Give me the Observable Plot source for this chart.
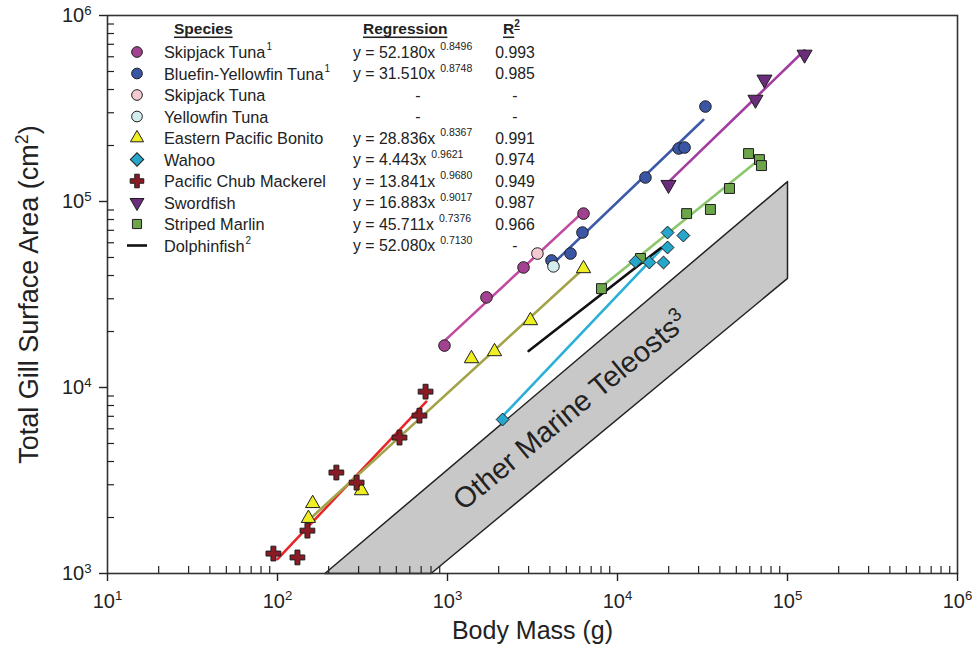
<!DOCTYPE html>
<html><head><meta charset="utf-8">
<script src="https://cdn.jsdelivr.net/npm/d3@7"></script>
<script src="https://cdn.jsdelivr.net/npm/@observablehq/plot@0.6"></script>
<style>
body{margin:0;background:#fff}
#wrap{position:relative;width:974px;height:653px}
#wrap svg.legend{position:absolute;left:0;top:0;pointer-events:none}
</style>
</head><body><div id="wrap"></div>
<script>
const FONT = "'Liberation Sans', Arial, Helvetica, sans-serif";

// ---- data: [body mass (g), total gill surface area (cm2)] ----
const skipjack1 = [[960,16800],[1695,30500],[2800,44200],[6310,86100]];
const bluefin1  = [[4090,48200],[5290,52500],[6220,68100],[14600,134600],[22900,192700],[24800,195000],[32900,324000]];
const skipjack  = [[3380,52500]];
const yellowfin = [[4200,44800]];
const bonito    = [[152,1980],[161,2380],[312,2790],[1383,14300],[1890,15600],[3075,22900],[6310,43600]];
const wahoo     = [[2110,6730],[12760,47500],[15400,47000],[18650,47000],[19700,56600],[19700,68100],[24400,65600]];
const mackerel  = [[94.6,1280],[131,1220],[150,1700],[222,3490],[292,3080],[522,5380],[684,7060],[743,9500]];
const swordfish = [[19950,123000],[64800,353000],[73200,453000],[126000,617000]];
const marlin    = [[8050,34000],[13650,49400],[25500,86100],[35200,90600],[45600,117500],[59000,181000],[68400,168000],[70300,156000]];

// regression line end points
const skipjack1Fit = [[960,17800],[6300,88200]];
const bluefin1Fit  = [[4000,44600],[32000,275000]];
const swordfishFit = [[20000,127500],[126000,650000]];
const marlinFit    = [[8000,34600],[70000,171400]];
const wahooFit     = [[2100,6980],[19000,58100]];
const bonitoFit    = [[150,1910],[6300,43500]];
const mackerelFit  = [[100,1195],[750,8400]];
const dolphinFit   = [[3000,15700],[18000,56300]];

// "Other Marine Teleosts" band outline
const teleostBand = [[190,1000],[100000,128000],[100000,38600],[800,1000],[190,1000]];
const teleostLabel = [{x:5300, y:7500, text:"Other Marine Teleosts^3"}];

// legend table
const legendSpecies = ["Skipjack Tuna^1","Bluefin-Yellowfin Tuna^1","Skipjack Tuna","Yellowfin Tuna","Eastern Pacific Bonito","Wahoo","Pacific Chub Mackerel","Swordfish","Striped Marlin","Dolphinfish^2"];
const legendCoef = ["52.180","31.510",null,null,"28.836","4.443","13.841","16.883","45.711","52.080"];
const legendExp  = ["0.8496","0.8748",null,null,"0.8367","0.9621","0.9680","0.9017","0.7376","0.7130"];
const legendR2   = ["0.993","0.985","-","-","0.991","0.974","0.949","0.987","0.966","-"];

// ticks
const majorX = [1e1,1e2,1e3,1e4,1e5,1e6];
const majorY = [1e3,1e4,1e5,1e6];
const minorMult = [2,3,4,5,6,7,8,9];
const minorX = [1e1,1e2,1e3,1e4,1e5].flatMap(d => minorMult.map(m => m*d));
const minorY = [1e3,1e4,1e5].flatMap(d => minorMult.map(m => m*d));

// ---- styles ----
const triDown = { draw(ctx, size) { const s = Math.sqrt(size*4/Math.sqrt(3)); const h = s*Math.sqrt(3)/2; ctx.moveTo(-s/2,-h/3); ctx.lineTo(s/2,-h/3); ctx.lineTo(0,2*h/3); ctx.closePath(); } };
const OUT = "#1e1e1e";
const sty = {
  skipjack1: {symbol:"circle", r:5.8, fill:"#a2418f"},
  bluefin1:  {symbol:"circle", r:5.8, fill:"#3a55a4"},
  skipjack:  {symbol:"circle", r:5.8, fill:"#f4c9d2"},
  yellowfin: {symbol:"circle", r:5.8, fill:"#d3eef0"},
  bonito:    {symbol:"triangle", r:5.3, fill:"#eeee22"},
  wahoo:     {symbol:"diamond2", r:5.8, fill:"#27a6cc"},
  mackerel:  {symbol:"cross", r:6.2, fill:"#8a1b25"},
  swordfish: {symbol:triDown, r:5.6, fill:"#6b2d7b"},
  marlin:    {symbol:"square", r:5.6, fill:"#6ca54a"}
};
const xy = {x: d => d[0], y: d => d[1]};
const dots = (data, s) => Plot.dot(data, {...xy, symbol: s.symbol, r: s.r, fill: s.fill, stroke: OUT, strokeWidth: 1});
const fit = (data, color) => Plot.line(data, {...xy, stroke: color, strokeWidth: 2.6});

const chart = Plot.plot({
  width: 974, height: 653,
  marginLeft: 107, marginRight: 17, marginTop: 15, marginBottom: 80,
  style: {fontFamily: FONT, fontSize: "16px", color: "#222", background: "white"},
  x: {type: "log", domain: [10, 1e6]},
  y: {type: "log", domain: [1e3, 1e6]},
  marks: [
    Plot.line(teleostBand, {...xy, fill: "#c8c8c8", stroke: "#222", strokeWidth: 1.5}),
    Plot.text(teleostLabel, {x: "x", y: "y", text: "text", rotate: -39.6, fontSize: 29, fill: "#222", textAnchor: "middle"}),
    fit(mackerelFit, "#e8262a"),
    fit(bonitoFit, "#a3a44a"),
    fit(skipjack1Fit, "#c04aa0"),
    fit(bluefin1Fit, "#3c5aa8"),
    fit(swordfishFit, "#a23ea0"),
    fit(marlinFit, "#8cc66a"),
    fit(wahooFit, "#2ab0d8"),
    fit(dolphinFit, "#111"),
    dots(bonito, sty.bonito),
    dots(mackerel, sty.mackerel),
    dots(skipjack1, sty.skipjack1),
    dots(bluefin1, sty.bluefin1),
    dots(skipjack, sty.skipjack),
    dots(yellowfin, sty.yellowfin),
    dots(marlin, sty.marlin),
    dots(wahoo, sty.wahoo),
    dots(swordfish, sty.swordfish),
    Plot.frame({stroke: "#333", strokeWidth: 1.6}),
    Plot.axisX({ticks: majorX, tickSize: 8, tickPadding: 12, fontSize: 20, label: null, strokeWidth: 1.4,
                tickFormat: d => "10^" + Math.round(Math.log10(d))}),
    Plot.axisX({ticks: minorX, tickSize: -7, tickFormat: () => "", label: null, strokeWidth: 1.2}),
    Plot.axisY({ticks: majorY, tickSize: 8, tickPadding: 8, fontSize: 20, label: null, strokeWidth: 1.4,
                tickFormat: d => "10^" + Math.round(Math.log10(d))}),
    Plot.axisY({ticks: minorY, tickSize: -7, tickFormat: () => "", label: null, strokeWidth: 1.2}),
    Plot.text(["Body Mass (g)"], {frameAnchor: "bottom", dy: 65, fontSize: 25, fill: "#222", textAnchor: "middle"}),
    Plot.text(["Total Gill Surface Area (cm^2)"], {frameAnchor: "left", dx: -78, rotate: -90, fontSize: 27, fill: "#222", textAnchor: "middle"})
  ]
});

const NS = "http://www.w3.org/2000/svg";
function supify(root) {
  root.querySelectorAll("text").forEach(t => {
    const s = t.textContent;
    const i = s.indexOf("^");
    if (i < 0) return;
    const j = s.indexOf(")", i);
    while (t.firstChild) t.removeChild(t.firstChild);
    t.appendChild(document.createTextNode(s.slice(0, i)));
    const sp = document.createElementNS(NS, "tspan");
    sp.setAttribute("dy", "-0.55em"); sp.setAttribute("font-size", "0.66em");
    sp.textContent = j > 0 ? s.slice(i+1, j) : s.slice(i+1);
    t.appendChild(sp);
    if (j > 0) {
      const rest = document.createElementNS(NS, "tspan");
      rest.setAttribute("dy", "0.363em");
      rest.textContent = s.slice(j);
      t.appendChild(rest);
    }
  });
}
supify(chart);
document.getElementById("wrap").appendChild(chart);

// ---- legend overlay ----
const lg = d3.create("svg").attr("class", "legend").attr("width", 974).attr("height", 653)
  .style("font-family", FONT).style("fill", "#222");
const hdrY = 28, row0 = 52, rowH = 21.5;
const header = lg.append("g").attr("font-weight", "bold").attr("font-size", 15.5).attr("text-decoration", "underline").attr("dominant-baseline", "central");
header.append("text").attr("x", 174).attr("y", hdrY).text("Species");
header.append("text").attr("x", 363).attr("y", hdrY).text("Regression");
const r2h = header.append("text").attr("x", 503).attr("y", hdrY).text("R");
r2h.append("tspan").attr("font-size", 10).attr("dy", -5).text("2");

const legendStyles = [sty.skipjack1, sty.bluefin1, sty.skipjack, sty.yellowfin, sty.bonito, sty.wahoo, sty.mackerel, sty.swordfish, sty.marlin, null];
legendSpecies.forEach((name, i) => {
  const y = row0 + i*rowH;
  const s = legendStyles[i];
  if (s) {
    const sym = typeof s.symbol === "string" ? {circle:d3.symbolCircle, triangle:d3.symbolTriangle, diamond2:d3.symbolSquare, cross:d3.symbolCross, square:d3.symbolSquare}[s.symbol] : s.symbol;
    lg.append("path").attr("d", d3.symbol(sym, Math.PI*s.r*s.r*0.85)())
      .attr("transform", `translate(137,${y})` + (s.symbol === "diamond2" ? " rotate(45)" : ""))
      .attr("fill", s.fill).attr("stroke", OUT).attr("stroke-width", 1);
  } else {
    lg.append("line").attr("x1", 127).attr("x2", 147).attr("y1", y).attr("y2", y).attr("stroke", "#111").attr("stroke-width", 2.6);
  }
  const t = lg.append("text").attr("x", 164).attr("y", y).attr("font-size", 16.3).attr("dominant-baseline", "central");
  const k = name.indexOf("^");
  if (k < 0) t.text(name);
  else { t.text(name.slice(0, k)); t.append("tspan").attr("font-size", 10).attr("dy", -6).attr("dx", 1).text(name.slice(k+1)); }
  if (legendCoef[i]) {
    const r = lg.append("text").attr("x", 353).attr("y", y).attr("font-size", 15.8).attr("dominant-baseline", "central").text(`y = ${legendCoef[i]}x`);
    r.append("tspan").attr("font-size", 10.5).attr("dx", 5).attr("dy", -6).text(legendExp[i]);
  } else {
    lg.append("text").attr("x", 418).attr("y", y).attr("font-size", 16).attr("text-anchor", "middle").attr("dominant-baseline", "central").text("-");
  }
  lg.append("text").attr("x", 515).attr("y", y).attr("font-size", 15.8).attr("text-anchor", "middle").attr("dominant-baseline", "central").text(legendR2[i]);
});
document.getElementById("wrap").appendChild(lg.node());
</script>
</body></html>
